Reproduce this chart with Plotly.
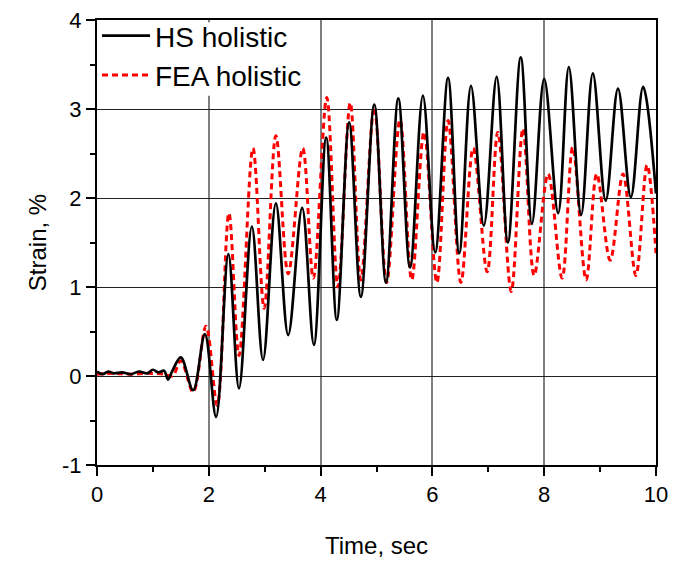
import plotly.graph_objects as go

# HS holistic (solid black) (time s, strain %)
hs_t = [0.0, 0.1, 0.2, 0.3, 0.45, 0.6, 0.75, 0.9, 1.0, 1.1, 1.2, 1.27, 1.35, 1.5, 1.72, 1.93, 2.13, 2.35, 2.54, 2.77, 2.97,
        3.20, 3.42, 3.67, 3.88, 4.10, 4.29, 4.51, 4.72, 4.96, 5.17, 5.39, 5.60, 5.83, 6.05, 6.28, 6.48,
        6.69, 6.92, 7.15, 7.35, 7.58, 7.78, 8.00, 8.25, 8.44, 8.66, 8.87, 9.10, 9.32, 9.55, 9.77, 10.0]
hs_v = [0.05, 0.02, 0.05, 0.03, 0.04, 0.02, 0.05, 0.03, 0.07, 0.04, 0.06, -0.04, 0.06, 0.21, -0.16, 0.47, -0.46, 1.37, -0.14, 1.68, 0.18,
        1.94, 0.46, 1.89, 0.35, 2.68, 0.63, 2.85, 0.89, 3.05, 1.05, 3.12, 1.22, 3.15, 1.39, 3.35, 1.38,
        3.26, 1.69, 3.36, 1.50, 3.58, 1.71, 3.34, 1.83, 3.47, 1.81, 3.40, 1.97, 3.23, 2.01, 3.25, 2.05]

# FEA holistic (dashed red)
fea_t = [0.0, 0.3, 0.6, 0.9, 1.2, 1.35, 1.5, 1.72, 1.95, 2.15, 2.36, 2.54, 2.79, 2.99,
         3.20, 3.42, 3.68, 3.87, 4.11, 4.31, 4.53, 4.72, 4.96, 5.18, 5.42, 5.63, 5.85, 6.08, 6.28, 6.51,
         6.73, 6.98, 7.17, 7.41, 7.62, 7.82, 8.07, 8.32, 8.51, 8.75, 8.94, 9.18, 9.41, 9.64, 9.84, 10.0]
fea_v = [0.02, 0.03, 0.02, 0.03, 0.02, 0.0, 0.17, -0.18, 0.56, -0.33, 1.83, 0.23, 2.56, 0.76,
         2.70, 1.15, 2.56, 1.10, 3.13, 1.00, 3.07, 1.08, 3.02, 1.05, 2.88, 1.08, 2.74, 1.05, 2.87, 1.05,
         2.56, 1.17, 2.74, 0.95, 2.78, 1.13, 2.27, 1.10, 2.57, 1.08, 2.27, 1.30, 2.27, 1.13, 2.37, 1.38]

x_ticks = [0, 2, 4, 6, 8, 10]
y_ticks = [-1, 0, 1, 2, 3, 4]
y_tick_labels = ["-1", "0", "1", "2", "3", "4"]

fig = go.Figure()
fig.add_trace(go.Scatter(x=fea_t, y=fea_v, mode="lines", name="FEA holistic",
                         line=dict(color="#ff0000", width=3, dash="6px,4px", shape="spline", smoothing=1.0)))
fig.add_trace(go.Scatter(x=hs_t, y=hs_v, mode="lines", name="HS holistic",
                         line=dict(color="#000000", width=2.7, shape="spline", smoothing=1.0)))

# white box behind the legend that hides the gridline there (no data passes through this area)
fig.add_shape(type="rect", xref="x domain", yref="y domain", x0=0.004, x1=0.37, y0=0.83, y1=0.995,
              fillcolor="white", line=dict(width=0), layer="above")

font_family = "Liberation Sans, Arial, sans-serif"
fig.update_layout(
    width=673, height=561,
    margin=dict(l=97, r=17, t=19, b=96),
    paper_bgcolor="white", plot_bgcolor="white",
    font=dict(family=font_family, size=22, color="black"),
    showlegend=True,
    legend=dict(x=0.0, y=1.018, xanchor="left", yanchor="top", traceorder="reversed",
                bgcolor="rgba(0,0,0,0)", borderwidth=0, font=dict(size=28),
                tracegroupgap=0, itemwidth=48),
    xaxis=dict(range=[0, 10], tickvals=x_ticks, ticks="outside", ticklen=9, tickwidth=2, tickcolor="black",
               minor=dict(dtick=1, ticks="outside", ticklen=5, tickwidth=2, tickcolor="black", showgrid=False),
               showgrid=True, gridcolor="#7f7f7f", gridwidth=1.5, automargin=False, ticklabeloverflow="allow",
               showline=True, linecolor="black", linewidth=2, mirror=True, zeroline=False,
               title=dict(text="Time, sec", standoff=31, font=dict(size=24)), tickfont=dict(size=22)),
    yaxis=dict(range=[-1, 4], tickvals=y_ticks, ticktext=y_tick_labels, ticks="outside", ticklen=9, tickwidth=2,
               tickcolor="black",
               minor=dict(dtick=0.5, ticks="outside", ticklen=5, tickwidth=2, tickcolor="black", showgrid=False),
               showgrid=True, gridcolor="#222222", gridwidth=1, automargin=False, ticklabeloverflow="allow",
               showline=True, linecolor="black", linewidth=2, mirror=True, zeroline=False,
               title=dict(text="Strain, %", standoff=9, font=dict(size=24)), tickfont=dict(size=22)),
)

fig.write_html("out.html", config={"displayModeBar": False},
               post_script="document.body.style.margin='0';document.documentElement.style.overflow='hidden';document.body.style.overflow='hidden';")
